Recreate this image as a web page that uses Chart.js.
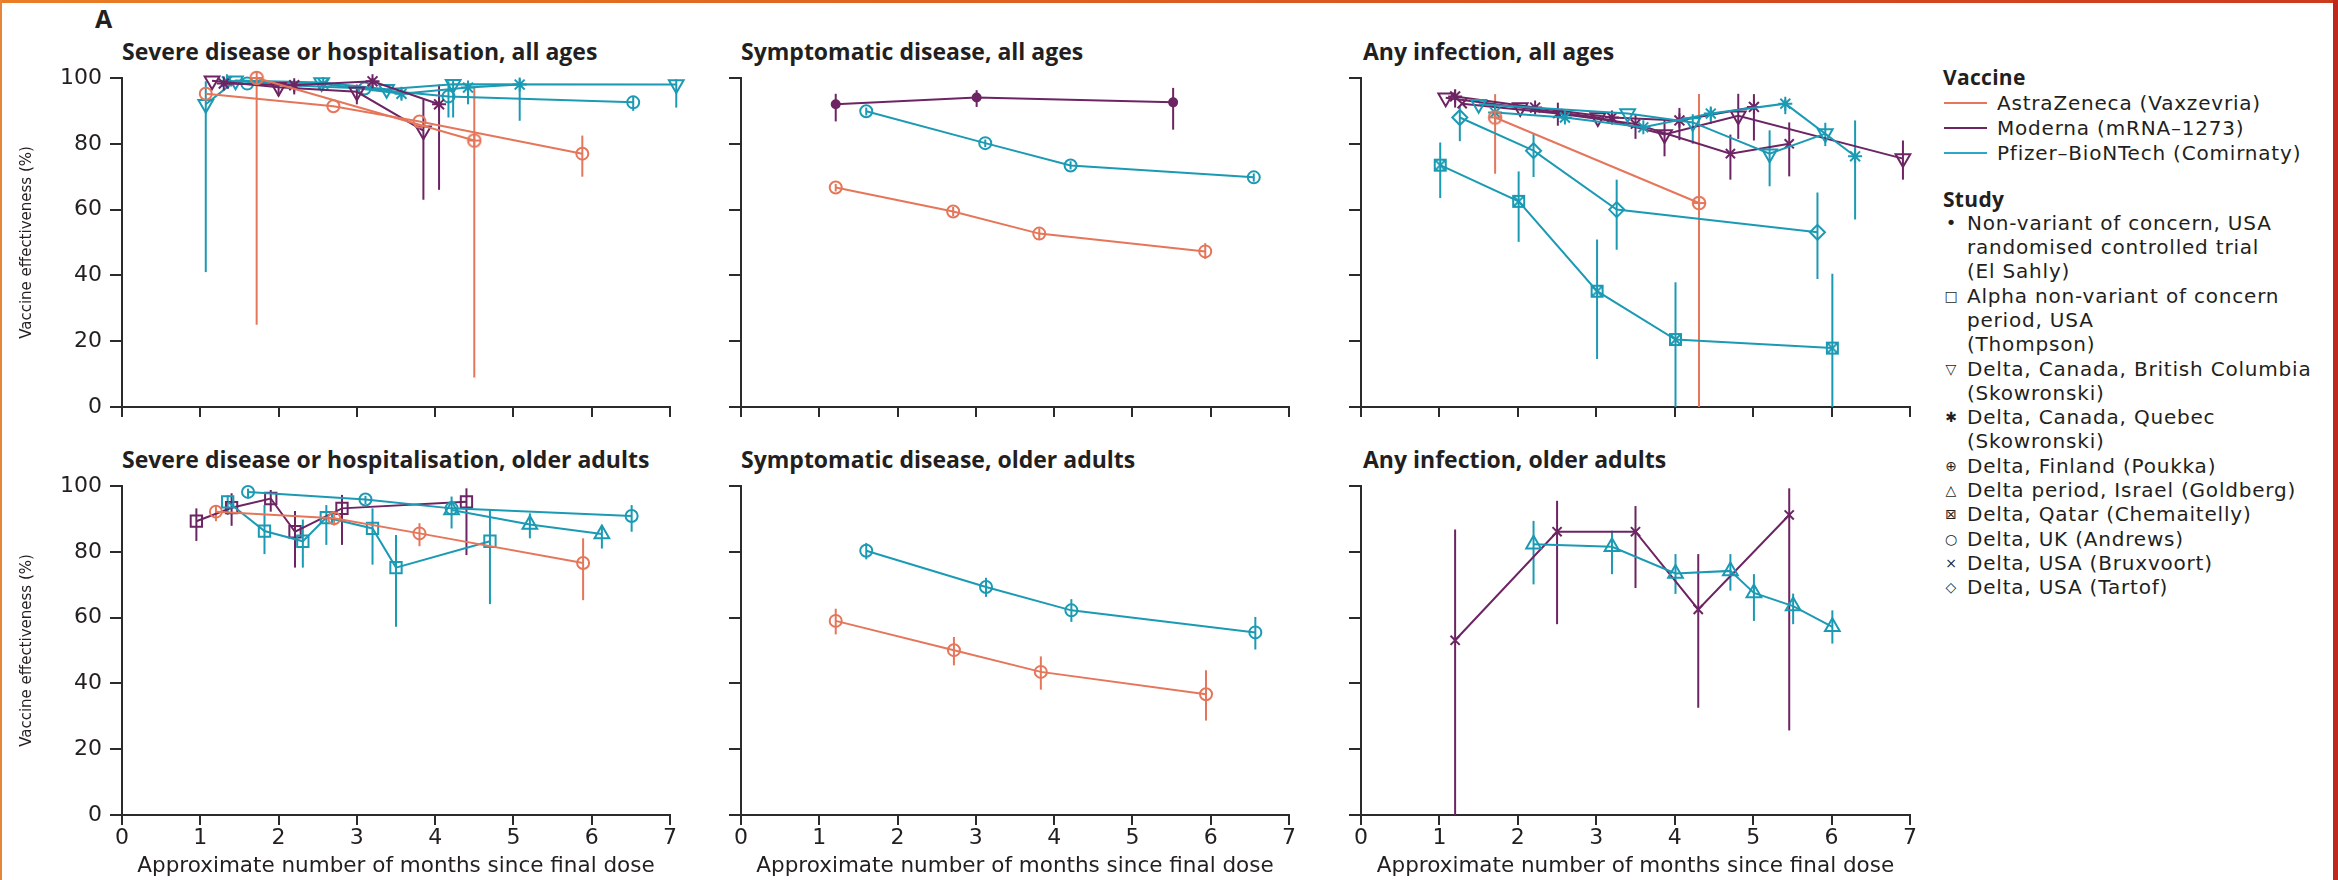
<!DOCTYPE html>
<html>
<head>
<meta charset="utf-8">
<script src="https://cdn.jsdelivr.net/npm/chart.js@4.4.1/dist/chart.umd.min.js"></script>
<style>
  html, body { margin: 0; padding: 0; background: #fff; }
  body { width: 2338px; height: 880px; position: relative; overflow: hidden;
         font-family: "DejaVu Sans", sans-serif; color: #231f20; }
  .frame-top { position: absolute; left: 0; top: 0; width: 2338px; height: 3px;
               background: linear-gradient(90deg, #ea7d24, #cc3a1e); }
  .frame-left { position: absolute; left: 0; top: 0; width: 2px; height: 880px; background: #e8833a; }
  .frame-right { position: absolute; right: 0; top: 0; width: 5px; height: 880px; background: #c0281c; }
  canvas.panel { position: absolute; }
  .ptitle { position: absolute; font-family: "Open Sans", sans-serif; font-weight: 700;
            font-size: 23px; line-height: 28px; white-space: nowrap; }
  .letter { position: absolute; left: 95px; top: 4px; font-family: "Open Sans", sans-serif;
            font-weight: 700; font-size: 25px; line-height: 28px; }
  .lg { position: absolute; left: 1943px; white-space: nowrap; font-size: 20px; letter-spacing: 0.8px; }
  .lg.head { font-family: "Open Sans", sans-serif; font-weight: 700; letter-spacing: 0.3px; font-size: 21px; }
  .vac { position: relative; padding-left: 54px; line-height: 25px; }
  .vac .sw { position: absolute; left: 1px; top: 11.5px; width: 43px; height: 2px; }
  .st { position: relative; padding-left: 24px; line-height: 24.3px; }
  .st .sym { position: absolute; left: 0; top: 0; width: 16px; text-align: center; font-size: 14px; letter-spacing: 0; }
</style>
</head>
<body>
<div class="frame-top"></div>
<div class="frame-left"></div>
<div class="frame-right"></div>

<div class="letter">A</div>
<div class="ptitle" style="left:122px;top:37px">Severe disease or hospitalisation, all ages</div>
<div class="ptitle" style="left:741px;top:37px">Symptomatic disease, all ages</div>
<div class="ptitle" style="left:1363px;top:37px">Any infection, all ages</div>
<div class="ptitle" style="left:122px;top:445px">Severe disease or hospitalisation, older adults</div>
<div class="ptitle" style="left:741px;top:445px">Symptomatic disease, older adults</div>
<div class="ptitle" style="left:1363px;top:445px">Any infection, older adults</div>

<canvas class="panel" id="tl" width="700" height="400" style="left:0px;top:40px"></canvas>
<canvas class="panel" id="tm" width="620" height="400" style="left:700px;top:40px"></canvas>
<canvas class="panel" id="tr" width="620" height="400" style="left:1320px;top:40px"></canvas>
<canvas class="panel" id="bl" width="700" height="440" style="left:0px;top:440px"></canvas>
<canvas class="panel" id="bm" width="620" height="440" style="left:700px;top:440px"></canvas>
<canvas class="panel" id="br" width="620" height="440" style="left:1320px;top:440px"></canvas>

<div class="lg head" style="top:65px;line-height:24px">Vaccine</div>
<div class="lg" style="top:90.5px">
  <div class="vac"><span class="sw" style="background:#e5765a"></span>AstraZeneca (Vaxzevria)</div>
  <div class="vac"><span class="sw" style="background:#6d2463"></span>Moderna (mRNA–1273)</div>
  <div class="vac"><span class="sw" style="background:#2aa8c6"></span>Pfizer–BioNTech (Comirnaty)</div>
</div>
<div class="lg head" style="top:187px;line-height:24px">Study</div>
<div class="lg" style="top:210.8px">
  <div class="st"><span class="sym" style="font-size:18px">•</span>Non-variant of concern, USA<br>randomised controlled trial<br>(El Sahly)</div>
  <div class="st"><span class="sym">□</span>Alpha non-variant of concern<br>period, USA<br>(Thompson)</div>
  <div class="st"><span class="sym">▽</span>Delta, Canada, British Columbia<br>(Skowronski)</div>
  <div class="st"><span class="sym">✱</span>Delta, Canada, Quebec<br>(Skowronski)</div>
  <div class="st"><span class="sym">⊕</span>Delta, Finland (Poukka)</div>
  <div class="st"><span class="sym">△</span>Delta period, Israel (Goldberg)</div>
  <div class="st"><span class="sym">⊠</span>Delta, Qatar (Chemaitelly)</div>
  <div class="st"><span class="sym">○</span>Delta, UK (Andrews)</div>
  <div class="st"><span class="sym">×</span>Delta, USA (Bruxvoort)</div>
  <div class="st"><span class="sym">◇</span>Delta, USA (Tartof)</div>
</div>

<script>
// each point: [months since final dose, VE %, lower CI, upper CI]
// severe disease or hospitalisation, all ages
const sevAllAzAndrews  = [[1.07, 95.2, null, null], [2.7, 91.4, null, null], [3.8, 86.8, null, null], [5.88, 77, 70, 82.5]];
const sevAllAzPoukka   = [[1.72, 100, 25, 100], [4.5, 81, 9, 97]];
const sevAllModBC      = [[1.15, 99.2, null, null], [2.0, 97.2, 94.5, 99], [3.0, 95.8, 92, 98], [3.85, 84, 63, 93.5]];
const sevAllModQuebec  = [[1.3, 98.3, null, null], [2.2, 97.8, 95, 99.2], [3.2, 99, 96, 100], [4.05, 92, 66, 98]];
const sevAllPfzBC      = [[1.07, 92, 41, 99], [1.45, 99.2, null, null], [2.55, 98.6, null, null], [3.38, 96.6, null, null], [4.23, 98.1, 88, 99.6], [7.08, 98, 91, 99.6]];
const sevAllPfzQuebec  = [[1.34, 99, null, null], [2.57, 98.2, null, null], [3.57, 95.2, 93.5, 97], [4.42, 97.1, 92, 98.3], [5.08, 98, 87, 99.8]];
const sevAllPfzAndrews = [[1.6, 98.3, null, null], [3.1, 96.8, null, null], [4.17, 94.4, 88, 99], [6.53, 92.6, 90, 94.4]];

// symptomatic disease, all ages
const symAllModElSahly = [[1.21, 92, 86.8, 95.2], [3.01, 94.1, 91.2, 96.3], [5.52, 92.6, 84.3, 97]];
const symAllPfzAndrews = [[1.6, 89.9, 88.6, 91], [3.12, 80.2, 79, 81.3], [4.21, 73.4, 72.2, 74.7], [6.55, 69.8, 68.5, 71]];
const symAllAzAndrews  = [[1.21, 66.7, 65.5, 67.8], [2.71, 59.4, 58, 60.8], [3.81, 52.7, 51, 54.3], [5.93, 47.3, 45, 49.8]];

// any infection, all ages
const infAllAzPoukka       = [[1.71, 88, 70.9, 95.1], [4.31, 62, 0, 95.1]];
const infAllModBC          = [[1.08, 94, null, null], [2.03, 91, null, null], [3.02, 88, null, null], [3.87, 82.8, 76.2, 87.8], [4.81, 88.5, 81.5, 95.2], [6.91, 75.5, 69.1, 81]];
const infAllModQuebec      = [[1.2, 94.4, 91, 96.5], [2.22, 91, null, null], [3.2, 88, null, null], [4.06, 87.1, 81.1, 90.9], [5.01, 91.2, 81, 95.1]];
const infAllModBruxvoort   = [[1.29, 92.2, null, null], [2.51, 89.2, 85.5, 92.5], [3.5, 86, 81.5, 89], [4.71, 77, 69.1, 82.8], [5.46, 80, 70.1, 86.5]];
const infAllPfzBC          = [[1.5, 92, null, null], [3.4, 89.2, null, null], [4.23, 86.5, 80, 89], [5.21, 77, 67.1, 84.1], [5.92, 83.1, 79.3, 86.4]];
const infAllPfzQuebec      = [[1.71, 89.5, 86.5, 92], [2.6, 88, null, null], [3.6, 85, null, null], [4.46, 89.2, 86, 91], [5.41, 92.2, 89, 93.5], [6.3, 76.2, 57, 87.1]];
const infAllPfzChemaitelly = [[1.01, 73.5, 63.5, 80.4], [2.01, 62.5, 50.2, 71.6], [3.01, 35.2, 14.6, 50.9], [4.01, 20.5, 0, 37.9], [6.01, 17.9, 0, 40.5]];
const infAllPfzTartof      = [[1.26, 88, 80.8, 91.4], [2.2, 77.9, 69.9, 83.3], [3.26, 60, 47.8, 69.1], [5.82, 53.1, 38.9, 65.2]];

// severe disease or hospitalisation, older adults
const sevOldModThompson = [[0.95, 89.3, 83.3, 93.2], [1.4, 93.4, 87.9, 97.8], [1.9, 96.2, 92.2, 98.8], [2.21, 86.1, 75.2, 92.4], [2.81, 93.2, 82.1, 97.3], [4.4, 95.2, 79, 99.3]];
const sevOldPfzThompson = [[1.35, 95.2, 91.2, 97.2], [1.82, 86.3, 79.3, 94.2], [2.31, 83.2, 75.2, 89.8], [2.61, 90.4, 82.1, 94.2], [3.2, 87.1, 76.1, 93.2], [3.5, 75.2, 57.2, 85.1], [4.7, 83.2, 64.1, 92.7]];
const sevOldPfzAndrews  = [[1.61, 98.2, 96.5, 99.2], [3.11, 95.9, 94.5, 97], [4.21, 93.2, 87.1, 96.8], [6.51, 90.9, 86.1, 94.2]];
const sevOldPfzGoldberg = [[4.21, 92.7, null, null], [5.21, 88.3, 84.1, 91.7], [6.13, 85.4, 81, 88.1]];
const sevOldAzAndrews   = [[1.2, 92.2, 89.3, 94.2], [2.71, 90.2, 88, 92.2], [3.8, 85.6, 81.7, 88.7], [5.89, 76.6, 65.3, 84.1]];

// symptomatic disease, older adults
const symOldPfzAndrews = [[1.6, 80.3, 77.7, 82.7], [3.13, 69.3, 66.3, 72.1], [4.22, 62.2, 58.7, 65.6], [6.57, 55.5, 50.3, 60.2]];
const symOldAzAndrews  = [[1.21, 59, 54.9, 62.7], [2.72, 50.1, 45.5, 54.1], [3.83, 43.5, 38.1, 48.2], [5.94, 36.7, 28.7, 44]];

// any infection, older adults
const infOldModBruxvoort = [[1.2, 53.1, 0, 86.8], [2.5, 86.1, 58, 95.5], [3.5, 86.1, 69, 93.9], [4.3, 62.5, 32.6, 79.3], [5.46, 91.2, 25.7, 99.3]];
const infOldPfzGoldberg  = [[2.2, 82.3, 70.1, 89.4], [3.2, 81.5, 73.2, 86.4], [4.01, 73.4, 67.2, 79.3], [4.71, 74.2, 68.2, 79.3], [5.01, 67.5, 59, 73.2], [5.51, 63.5, 58, 67.3], [6.01, 57.2, 52.1, 62.2]];

const xTicks = [0, 1, 2, 3, 4, 5, 6, 7];
const yTicks = [0, 20, 40, 60, 80, 100];

const AZ = '#e5765a', MOD = '#6d2463', PFZ = '#1b9ab4';
const AXIS = '#2b2b2b', TEXT = '#231f20';

function markerCanvas(kind, color) {
  const c = document.createElement('canvas');
  const s = kind === 'oplus' ? 16 : 15;
  c.width = s; c.height = s;
  const g = c.getContext('2d');
  g.strokeStyle = color; g.lineWidth = 2;
  if (kind === 'oplus') {
    g.beginPath(); g.arc(8, 8, 6.3, 0, Math.PI * 2); g.stroke();
    g.beginPath(); g.moveTo(1.5, 8); g.lineTo(14.5, 8); g.moveTo(8, 1.5); g.lineTo(8, 14.5); g.stroke();
  } else {
    g.strokeRect(2, 2, 11, 11);
    g.beginPath(); g.moveTo(2, 2); g.lineTo(13, 13); g.moveTo(13, 2); g.lineTo(2, 13); g.stroke();
  }
  return c;
}

const studyStyle = {
  elsahly:     { style: 'circle', r: 4, fill: true },
  thompson:    { style: 'rect', r: 8 },
  bc:          { style: 'triangle', r: 8.5, rot: 180 },
  quebec:      { style: 'star', r: 7 },
  poukka:      { style: 'oplus' },
  goldberg:    { style: 'triangle', r: 8.5 },
  chemaitelly: { style: 'boxx' },
  andrews:     { style: 'circle', r: 6 },
  bruxvoort:   { style: 'crossRot', r: 6.5 },
  tartof:      { style: 'rectRot', r: 7.5 }
};

const panelSeries = {
  tl: [[sevAllAzAndrews, AZ, 'andrews'], [sevAllAzPoukka, AZ, 'poukka'],
       [sevAllModBC, MOD, 'bc'], [sevAllModQuebec, MOD, 'quebec'],
       [sevAllPfzBC, PFZ, 'bc'], [sevAllPfzQuebec, PFZ, 'quebec'], [sevAllPfzAndrews, PFZ, 'andrews']],
  tm: [[symAllAzAndrews, AZ, 'andrews'], [symAllPfzAndrews, PFZ, 'andrews'], [symAllModElSahly, MOD, 'elsahly']],
  tr: [[infAllPfzChemaitelly, PFZ, 'chemaitelly'], [infAllPfzTartof, PFZ, 'tartof'],
       [infAllAzPoukka, AZ, 'poukka'],
       [infAllPfzBC, PFZ, 'bc'], [infAllPfzQuebec, PFZ, 'quebec'],
       [infAllModBC, MOD, 'bc'], [infAllModQuebec, MOD, 'quebec'], [infAllModBruxvoort, MOD, 'bruxvoort']],
  bl: [[sevOldAzAndrews, AZ, 'andrews'], [sevOldPfzThompson, PFZ, 'thompson'], [sevOldPfzAndrews, PFZ, 'andrews'],
       [sevOldPfzGoldberg, PFZ, 'goldberg'], [sevOldModThompson, MOD, 'thompson']],
  bm: [[symOldAzAndrews, AZ, 'andrews'], [symOldPfzAndrews, PFZ, 'andrews']],
  br: [[infOldPfzGoldberg, PFZ, 'goldberg'], [infOldModBruxvoort, MOD, 'bruxvoort']]
};

const panels = [
  { id: 'tl', yW: 122, padT: 38, padR: 30, xH: 33, yLab: true,  xLab: false },
  { id: 'tm', yW: 41,  padT: 38, padR: 31, xH: 33, yLab: false, xLab: false },
  { id: 'tr', yW: 41,  padT: 38, padR: 30, xH: 33, yLab: false, xLab: false },
  { id: 'bl', yW: 122, padT: 46, padR: 30, xH: 65, yLab: true,  xLab: true },
  { id: 'bm', yW: 41,  padT: 46, padR: 31, xH: 65, yLab: false, xLab: true },
  { id: 'br', yW: 41,  padT: 46, padR: 30, xH: 65, yLab: false, xLab: true }
];

// vertical confidence-interval lines
const errorBars = {
  id: 'errorBars',
  beforeDatasetsDraw(chart) {
    const { ctx } = chart;
    const x = chart.scales.x, y = chart.scales.y;
    chart.data.datasets.forEach(ds => {
      ctx.save();
      ctx.strokeStyle = ds.borderColor;
      ctx.lineWidth = 2;
      ds.ci.forEach((c, i) => {
        if (c[0] == null) return;
        const px = x.getPixelForValue(ds.data[i].x);
        ctx.beginPath();
        ctx.moveTo(px, y.getPixelForValue(c[0]));
        ctx.lineTo(px, y.getPixelForValue(c[1]));
        ctx.stroke();
      });
      ctx.restore();
    });
  }
};

function makeDataset(series, color, study) {
  const st = studyStyle[study];
  let pointStyle = st.style;
  if (pointStyle === 'oplus' || pointStyle === 'boxx') pointStyle = markerCanvas(pointStyle, color);
  return {
    data: series.map(p => ({ x: p[0], y: p[1] })),
    ci: series.map(p => [p[2], p[3]]),
    showLine: true,
    borderColor: color,
    backgroundColor: 'rgba(0,0,0,0)',
    borderWidth: 2,
    tension: 0,
    pointStyle: pointStyle,
    pointRadius: st.r || 6,
    pointRotation: st.rot || 0,
    pointBorderColor: color,
    pointBackgroundColor: st.fill ? color : 'rgba(0,0,0,0)',
    pointBorderWidth: 2,
    clip: false
  };
}

panels.forEach(p => {
  new Chart(document.getElementById(p.id), {
    type: 'scatter',
    data: { datasets: panelSeries[p.id].map(s => makeDataset(s[0], s[1], s[2])) },
    plugins: [errorBars],
    options: {
      responsive: false,
      animation: false,
      events: [],
      layout: { padding: { left: 0, right: p.padR, top: p.padT, bottom: 0 } },
      plugins: { legend: { display: false }, tooltip: { enabled: false } },
      scales: {
        x: {
          type: 'linear', min: xTicks[0], max: xTicks[xTicks.length - 1],
          afterBuildTicks: s => { s.ticks = xTicks.map(v => ({ value: v })); },
          afterFit: s => { s.height = p.xH; },
          border: { color: AXIS, width: 2 },
          grid: { drawOnChartArea: false, drawTicks: true, tickLength: 10, color: AXIS, lineWidth: 2 },
          ticks: {
            color: TEXT, padding: 0, maxRotation: 0, autoSkip: false,
            font: { family: 'DejaVu Sans', size: 22 },
            callback: v => p.xLab ? String(v) : ''
          },
          title: {
            display: p.xLab, text: 'Approximate number of months since final dose', color: TEXT,
            font: { family: 'DejaVu Sans', size: 21.5 }, padding: { top: 0, bottom: 1 }
          }
        },
        y: {
          min: yTicks[0], max: yTicks[yTicks.length - 1],
          afterBuildTicks: s => { s.ticks = yTicks.map(v => ({ value: v })); },
          afterFit: s => { s.width = p.yW; },
          border: { color: AXIS, width: 2 },
          grid: { drawOnChartArea: false, drawTicks: true, tickLength: 12, color: AXIS, lineWidth: 2 },
          ticks: {
            color: TEXT, padding: 8, autoSkip: false,
            font: { family: 'DejaVu Sans', size: 22 },
            callback: v => p.yLab ? String(v) : ''
          },
          title: {
            display: p.yLab, text: 'Vaccine effectiveness (%)', color: TEXT,
            font: { family: 'DejaVu Sans', size: 15 }, padding: { top: 18, bottom: 0 }
          }
        }
      }
    }
  });
});
</script>
</body>
</html>
